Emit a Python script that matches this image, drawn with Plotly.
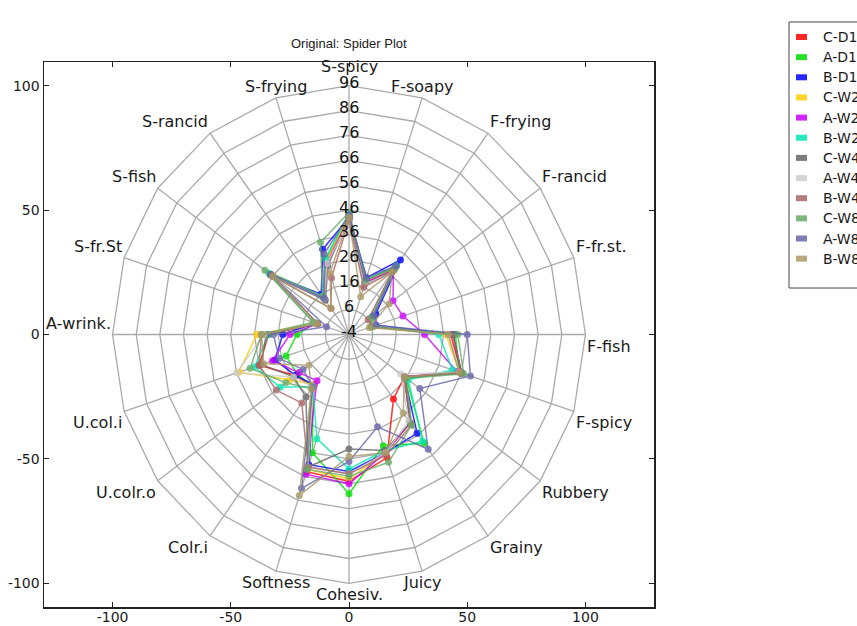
import numpy as np
import plotly.graph_objects as go

categories = ["S-spicy", "F-soapy", "F-frying", "F-rancid", "F-fr.st.", "F-fish",
              "F-spicy", "Rubbery", "Grainy", "Juicy", "Cohesiv.", "Softness",
              "Colr.i", "U.colr.o", "U.col.i", "A-wrink.", "S-fr.St", "S-fish",
              "S-rancid", "S-frying"]

series_names = ["C-D1", "A-D1", "B-D1", "C-W2", "A-W2", "B-W2",
                "C-W4", "A-W4", "B-W4", "C-W8", "A-W8", "B-W8"]

C_D1 = [43, 18, 29, 7, 7, 39, 46, 25, 28, 48, 55, 54, 22, 24, 36, 30, 10, 37, 14, 27]
A_D1 = [44, 19, 30, 8, 7, 41, 45, 26, 50, 43, 60, 46, 22, 23, 24, 18, 11, 37, 15, 28]
B_D1 = [43, 20, 33, 10, 8, 40, 46, 25, 45, 46, 51, 51, 21, 24, 29, 24, 11, 37, 16, 32]
C_W2 = [44, 18, 29, 7, 6, 37, 45, 25, 40, 46, 54, 53, 21, 27, 45, 35, 11, 37, 14, 27]
A_W2 = [43, 18, 28, 19, 20, 28, 44, 25, 40, 46, 56, 55, 19, 22, 30, 21, 10, 36, 14, 26]
B_W2 = [45, 19, 30, 8, 7, 34, 42, 27, 49, 45, 50, 40, 22, 32, 38, 30, 11, 38, 15, 28]
C_W4 = [43, 17, 28, 7, 6, 40, 46, 25, 40, 45, 42, 52, 27, 25, 35, 31, 10, 37, 13, 25]
A_W4 = [42, 17, 27, 7, 7, 38, 45, 23, 39, 46, 52, 52, 22, 25, 46, 32, 11, 36, 14, 26]
B_W4 = [42, 16, 27, 6, 6, 40, 46, 25, 41, 47, 52, 52, 30, 34, 36, 33, 10, 36, 9, 20]
C_W8 = [45, 19, 29, 8, 6, 42, 47, 26, 41, 50, 53, 53, 23, 29, 40, 33, 12, 40, 15, 35]
A_W8 = [44, 20, 30, 9, 8, 46, 50, 33, 53, 35, 47, 61, 22, 20, 27, 28, 6, 37, 14, 30]
B_W8 = [43, 12, 27, 17, 5, 38, 45, 25, 35, 46, 45, 64, 23, 17, 34, 33, 10, 36, 9, 22]

series_values = [C_D1, A_D1, B_D1, C_W2, A_W2, B_W2, C_W4, A_W4, B_W4, C_W8, A_W8, B_W8]

series_colors = ["#ff0000", "#00dd00", "#0000ff", "#ffcc00", "#cc00ff", "#00e8b4",
                 "#666666", "#cccccc", "#aa6666", "#66aa66", "#6666aa", "#aa9966"]

radial_ticks = [-4, 6, 16, 26, 36, 46, 56, 66, 76, 86, 96]
axis_ticks = [-100, -50, 0, 50, 100]
axis_tick_text = ["-100", "-50", "0", "50", "100"]

N = len(categories)
rmin = radial_ticks[0]
rmax = radial_ticks[-1] - rmin
theta = np.deg2rad(90 - 360.0 * np.arange(N) / N)
ct, st = np.cos(theta), np.sin(theta)

fig = go.Figure()

# grid rings
gx, gy = [], []
for t in radial_ticks[1:]:
    r = t - rmin
    gx += list(r * np.append(ct, ct[0])) + [None]
    gy += list(r * np.append(st, st[0])) + [None]
# spokes
for i in range(N):
    gx += [0, rmax * ct[i], None]
    gy += [0, rmax * st[i], None]
fig.add_trace(go.Scatter(x=gx, y=gy, mode="lines",
                         line=dict(color="#aaaaaa", width=1.3),
                         hoverinfo="skip", showlegend=False))

for name, vals, col in zip(series_names, series_values, series_colors):
    r = np.array(vals, dtype=float) - rmin
    xs = np.append(r * ct, r[0] * ct[0])
    ys = np.append(r * st, r[0] * st[0])
    fig.add_trace(go.Scatter(x=xs, y=ys, mode="lines+markers", name=name,
                             line=dict(color=col, width=1.5),
                             marker=dict(color=col, size=7),
                             opacity=0.8, showlegend=False))

font_main = "DejaVu Sans, Verdana, sans-serif"
ann = []
# category labels
for i, lab in enumerate(categories):
    c, s = ct[i], st[i]
    xa = "center" if abs(c) < 0.4 else ("left" if c > 0 else "right")
    if s > 0.01:
        ya = "bottom"
    elif s < -0.01:
        ya = "top"
    else:
        ya = "top" if c > 0 else "bottom"
    ysh = 8 if (abs(c) < 0.01 and s > 0) else 0
    ann.append(dict(x=rmax * c, y=rmax * s, xref="x", yref="y", text=lab,
                    showarrow=False, xanchor=xa, yanchor=ya, yshift=ysh,
                    font=dict(family=font_main, size=16, color="#1a1a1a")))
# radial tick labels
for t in radial_ticks:
    ann.append(dict(x=0, y=t - rmin, xref="x", yref="y", text=str(t),
                    showarrow=False, xanchor="center", yanchor="middle", yshift=3,
                    font=dict(family=font_main, size=16, color="#111111")))

# title
ann.append(dict(x=0.5, y=1, xref="paper", yref="paper", text="Original: Spider Plot",
                showarrow=False, xanchor="center", yanchor="bottom", yshift=9,
                font=dict(family="Liberation Sans Narrow, Liberation Sans, Arial, sans-serif",
                          size=13, color="#1a1a1a")))

# the page body margin is removed in post_script, so page pixels == figure pixels
FW, FH = 857, 626
L, T, W, H = 44, 62, 610, 545


def px(xp):
    return (xp - L) / W


def py(yp):
    return (T + H - yp) / H


shapes = [dict(type="rect", xref="paper", yref="paper",
               x0=px(789), x1=px(900), y0=py(288), y1=py(22),
               line=dict(color="#444444", width=1), fillcolor="white", layer="below")]
for i, (name, col) in enumerate(zip(series_names, series_colors)):
    yc = 37 + 20.15 * i
    shapes.append(dict(type="rect", xref="paper", yref="paper",
                       x0=px(796), x1=px(807), y0=py(yc + 3), y1=py(yc - 3),
                       line=dict(width=0), fillcolor=col, opacity=0.85))
    ann.append(dict(x=px(821), y=py(yc), xref="paper", yref="paper", text=name,
                    showarrow=False, xanchor="left", yanchor="middle",
                    font=dict(family=font_main, size=14, color="#1a1a1a")))

axis_common = dict(tickvals=axis_ticks, ticktext=axis_tick_text, ticks="inside",
                   ticklen=5, tickwidth=1,
                   tickcolor="#222222", showline=True, linecolor="#222222", linewidth=1.5,
                   mirror="ticks", showgrid=False, zeroline=False,
                   tickfont=dict(family=font_main, size=14, color="#1a1a1a"),
                   fixedrange=True)

fig.update_layout(
    width=FW, height=FH,
    margin=dict(l=L, r=FW - L - W, t=T, b=FH - T - H, autoexpand=False),
    paper_bgcolor="white", plot_bgcolor="white",
    xaxis=dict(range=[-129, 129], ticklabelstandoff=-3, **axis_common),
    yaxis=dict(range=[-109.5, 109.5], **axis_common),
    annotations=ann, shapes=shapes, showlegend=False, hovermode=False,
)

fig.write_html("out.html",
               config={"displayModeBar": False, "staticPlot": True},
               post_script="document.body.style.margin='0px';"
                           "document.body.style.overflow='hidden';")
